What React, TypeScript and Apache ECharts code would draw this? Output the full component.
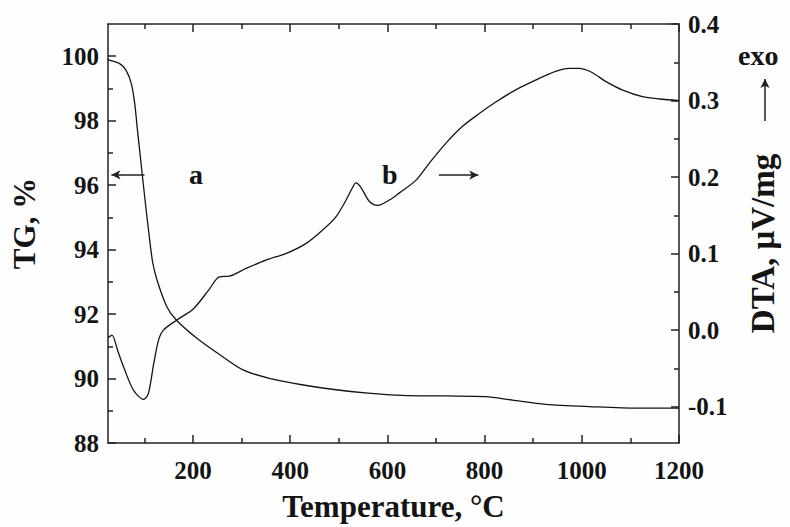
import React, { useEffect, useRef } from "react";
import * as echarts from "echarts";

const tgTemp = [25, 28, 49, 62, 73, 80, 85, 90, 96, 103, 110, 117, 126, 146, 166, 208, 256, 304, 359, 427, 490, 560, 630, 720, 802, 857, 926, 1015, 1118, 1200];
const tgValues = [99.9, 99.88, 99.77, 99.57, 99.15, 98.53, 97.8, 97.1, 96.26, 95.3, 94.4, 93.6, 93.05, 92.23, 91.81, 91.25, 90.73, 90.26, 90.0, 89.8, 89.66, 89.55, 89.48, 89.46, 89.44, 89.33, 89.2, 89.13, 89.08, 89.08];

const dtaTemp = [25, 33, 45, 57, 77, 98, 108, 119, 129, 139, 166, 201, 234, 254, 275, 309, 350, 391, 432, 467, 494, 515, 528, 535, 545, 563, 580, 604, 624, 659, 686, 720, 754, 789, 823, 864, 906, 946, 974, 994, 1020, 1049, 1083, 1125, 1160, 1200];
const dtaValues = [-0.01, -0.0065, -0.027, -0.048, -0.078, -0.0905, -0.083, -0.044, -0.013, 0.0, 0.013, 0.028, 0.054, 0.0697, 0.0706, 0.0806, 0.0915, 0.1, 0.113, 0.131, 0.148, 0.17, 0.186, 0.1925, 0.187, 0.168, 0.163, 0.17, 0.179, 0.196, 0.218, 0.244, 0.266, 0.283, 0.298, 0.314, 0.327, 0.338, 0.342, 0.342, 0.337, 0.325, 0.314, 0.305, 0.302, 0.3];

const xMajor = [200, 400, 600, 800, 1000, 1200];
const xMinor = [100, 300, 500, 700, 900, 1100];
const tgMajor = [88, 90, 92, 94, 96, 98, 100];
const tgMinor = [89, 91, 93, 95, 97, 99];
const dtaMajor = [-0.1, 0, 0.1, 0.2, 0.3, 0.4];
const dtaMinor = [-0.05, 0.05, 0.15, 0.25, 0.35];

const X_MIN = 25, X_MAX = 1200;
const TG_MIN = 88, TG_MAX = 101;
const DTA_MIN = -0.1475, DTA_MAX = 0.4;

// annotation arrows (data space): curve a points left to the TG axis, curve b right to the DTA axis
const arrowA = { from: 100, to: 32, level: 96.32 };
const arrowB = { from: 706, to: 787, level: 0.2026 };

const FONT = "'Liberation Serif', 'Times New Roman', serif";
const INK = "#141414";
const AXIS = "#222";

export default function App() {
  const ref = useRef<HTMLDivElement>(null);
  useEffect(() => {
    if (!ref.current) return;
    const chart = echarts.init(ref.current, null, { renderer: "svg" });
    const lineStyle = { color: AXIS, width: 1.5 };
    const tickStyle = { color: AXIS, width: 1.5 };
    const labelStyle = { fontSize: 25, fontWeight: "bold" as const, fontFamily: FONT, color: INK };
    const nameStyle = (size: number, padding: number[]) => ({ fontSize: size, fontWeight: "bold" as const, fontFamily: FONT, color: INK, padding });
    const xPerPx = (X_MAX - X_MIN) / 571;
    const tgPerPx = (TG_MAX - TG_MIN) / 419;
    const seg = (a: number[], b: number[]) => [{ coord: a }, { coord: b }];
    const arrow = (a: number[], b: number[]) => [
      { coord: a, symbol: "none" },
      { coord: b, symbol: "arrow", symbolSize: [7, 9] },
    ];
    const tgMarks = [
      ...xMinor.map((v) => seg([v, TG_MIN], [v, TG_MIN + 5 * tgPerPx])),
      ...xMinor.map((v) => seg([v, TG_MAX], [v, TG_MAX - 5 * tgPerPx])),
      ...tgMinor.map((v) => seg([X_MIN, v], [X_MIN + 5 * xPerPx, v])),
      arrow([arrowA.from, arrowA.level], [arrowA.to, arrowA.level]),
    ];
    const dtaMarks = [
      ...dtaMinor.map((v) => seg([X_MAX, v], [X_MAX - 5 * xPerPx, v])),
      arrow([arrowB.from, arrowB.level], [arrowB.to, arrowB.level]),
      [{ x: 765, y: 121, symbol: "none" }, { x: 765, y: 79, symbol: "arrow", symbolSize: [7, 9] }],
    ];
    const markLine = (data: any[]) => ({
      symbol: "none",
      label: { show: false },
      lineStyle: { color: AXIS, width: 1.5, type: "solid" },
      emphasis: { disabled: true },
      data,
    });
    const title = (text: string, left: number, top: number) => ({
      text, left, top, padding: 0,
      textStyle: { fontSize: 28, fontWeight: "bold" as const, fontFamily: FONT, color: INK, lineHeight: 28 },
    });
    chart.setOption({
      animation: false,
      backgroundColor: "#fefefe",
      title: [title("a", 189, 160), title("b", 382, 160), title("exo", 738, 41)],
      grid: { left: 108, right: 111, top: 24, bottom: 84, containLabel: false },
      xAxis: [
        {
          type: "value", min: X_MIN, max: X_MAX, position: "bottom",
          name: "Temperature, °C", nameLocation: "middle", nameGap: 48, nameTextStyle: nameStyle(31, [0, 0, 0, 0]),
          axisLine: { show: true, onZero: false, lineStyle },
          axisTick: { show: true, inside: true, length: 8, customValues: xMajor, lineStyle: tickStyle },
          axisLabel: { show: true, customValues: xMajor, margin: 15, formatter: (v: number) => String(v), ...labelStyle },
          splitLine: { show: false },
        },
        {
          type: "value", min: X_MIN, max: X_MAX, position: "top",
          axisLine: { show: true, onZero: false, lineStyle },
          axisTick: { show: true, inside: true, length: 8, customValues: xMajor, lineStyle: tickStyle },
          axisLabel: { show: false }, splitLine: { show: false },
        },
      ],
      yAxis: [
        {
          type: "value", min: TG_MIN, max: TG_MAX, position: "left",
          name: "TG, %", nameLocation: "middle", nameRotate: 90, nameGap: 68, nameTextStyle: nameStyle(31, [0, 0, 0, 20]),
          axisLine: { show: true, onZero: false, lineStyle },
          axisTick: { show: true, inside: true, length: 8, customValues: tgMajor, lineStyle: tickStyle },
          axisLabel: { show: true, customValues: tgMajor, margin: 9, formatter: (v: number) => String(v), ...labelStyle },
          splitLine: { show: false },
        },
        {
          type: "value", min: DTA_MIN, max: DTA_MAX, position: "right",
          name: "DTA, μV/mg", nameLocation: "middle", nameRotate: 90, nameGap: 67, nameTextStyle: nameStyle(33, [0, 20, 0, 0]),
          axisLine: { show: true, onZero: false, lineStyle },
          axisTick: { show: true, inside: true, length: 8, customValues: dtaMajor, lineStyle: tickStyle },
          axisLabel: { show: true, customValues: dtaMajor, margin: 9, formatter: (v: number) => v.toFixed(1), ...labelStyle },
          splitLine: { show: false },
        },
      ],
      series: [
        {
          name: "TG", type: "line", xAxisIndex: 0, yAxisIndex: 0, showSymbol: false, smooth: 0.3, clip: false,
          lineStyle: { color: INK, width: 1.3 },
          data: tgTemp.map((t, i) => [t, tgValues[i]]),
          markLine: markLine(tgMarks),
        },
        {
          name: "DTA", type: "line", xAxisIndex: 0, yAxisIndex: 1, showSymbol: false, smooth: 0.3, clip: false,
          lineStyle: { color: INK, width: 1.3 },
          data: dtaTemp.map((t, i) => [t, dtaValues[i]]),
          markLine: markLine(dtaMarks),
        },
      ],
    });
    return () => chart.dispose();
  }, []);
  return <div ref={ref} style={{ position: "fixed", left: 0, top: 0, width: 790, height: 527 }} />;
}
